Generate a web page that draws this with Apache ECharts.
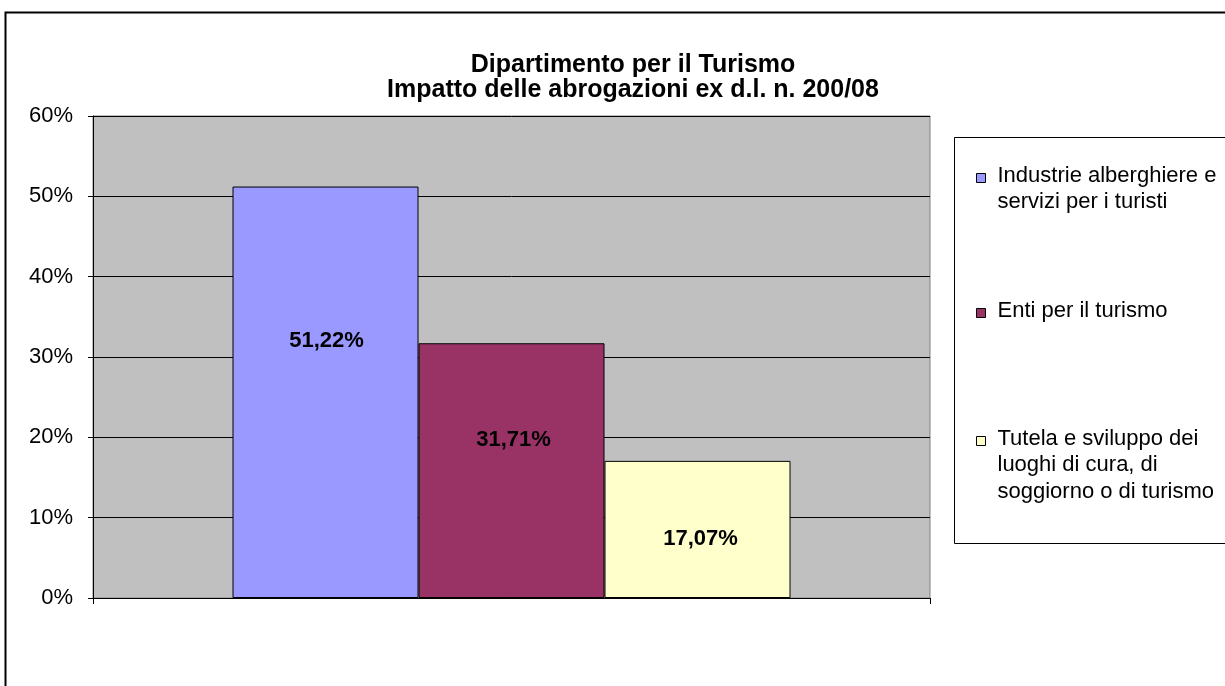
<!DOCTYPE html>
<html>
<head>
<meta charset="utf-8">
<script src="https://cdn.jsdelivr.net/npm/echarts@6/dist/echarts.min.js"></script>
<style>
  html, body { margin: 0; padding: 0; background: #fff; }
  #chart { width: 1225px; height: 686px; }
</style>
</head>
<body>
<div id="chart"></div>
<script>
const categories = [''];
const series_names = [
    'Industrie alberghiere e\nservizi per i turisti',
    'Enti per il turismo',
    'Tutela e sviluppo dei\nluoghi di cura, di\nsoggiorno o di turismo'
];
const series_values = [51.22, 31.71, 17.07];
const series_colors = ['#9999FF', '#993366', '#FFFFCC'];
const y_ticks = [0, 10, 20, 30, 40, 50, 60];

const FONT = 'Liberation Sans, Arial, sans-serif';
const LINE_H = 26.5;

function fmt_pct(v) {
    return v.toFixed(2).replace('.', ',') + '%';
}

// one legend per item; the icon path is padded so the square sits on the first text line
const legend_tops = [162, 297, 425];
const legends = series_names.map(function (name, i) {
    const h = name.split('\n').length * LINE_H;
    return {
        data: [name],
        left: 976,
        top: legend_tops[i],
        padding: 0,
        itemWidth: 16,
        itemHeight: h,
        icon: 'path://M0,11L9,11L9,20L0,20Z M0,0 M16,' + h,
        selectedMode: false,
        itemStyle: {borderColor: '#000', borderWidth: 1},
        textStyle: {fontFamily: FONT, fontSize: 22, color: '#000', lineHeight: LINE_H}
    };
});

// Excel had the labels nudged off the bar middles
const label_offsets = [[1, -51], [2, -31], [3, 10]];

const series = series_names.map(function (name, i) {
    return {
        name: name,
        type: 'bar',
        data: [series_values[i]],
        barWidth: 186,
        barGap: '0%',
        itemStyle: {color: series_colors[i], borderColor: '#000', borderWidth: 1},
        label: {
            show: true,
            position: 'inside',
            offset: label_offsets[i],
            formatter: function (p) { return fmt_pct(p.value); },
            fontFamily: FONT, fontSize: 22, fontWeight: 'bold', color: '#000'
        }
    };
});

const option = {
    animation: false,
    backgroundColor: '#fff',
    title: {
        text: 'Dipartimento per il Turismo\nImpatto delle abrogazioni ex d.l. n. 200/08',
        left: 628,
        top: 48,
        textAlign: 'center',
        textStyle: {fontFamily: FONT, fontSize: 25, fontWeight: 'bold', color: '#000', lineHeight: 25}
    },
    legend: legends,
    grid: {
        left: 93, right: 295, top: 116, bottom: 88,
        show: true, backgroundColor: '#C0C0C0', borderColor: '#808080', borderWidth: 1
    },
    xAxis: {
        type: 'category',
        data: categories,
        axisLine: {lineStyle: {color: '#000', width: 1}},
        axisTick: {show: true, length: 6, lineStyle: {color: '#000'}},
        axisLabel: {show: false}
    },
    yAxis: {
        type: 'value',
        min: y_ticks[0],
        max: y_ticks[y_ticks.length - 1],
        interval: 10,
        axisLine: {show: true, lineStyle: {color: '#000', width: 1}},
        axisTick: {show: true, length: 5, lineStyle: {color: '#000'}},
        axisLabel: {formatter: '{value}%', fontFamily: FONT, fontSize: 22, color: '#000', margin: 20},
        splitLine: {lineStyle: {color: '#000', width: 1}}
    },
    graphic: [
        {
            type: 'rect', left: 3, top: 10, z: -1,
            shape: {width: 1240, height: 700},
            style: {fill: 'none', stroke: '#000', lineWidth: 2}
        },
        {
            type: 'rect', left: 954, top: 137, z: 0,
            shape: {width: 290, height: 406},
            style: {fill: '#fff', stroke: '#000', lineWidth: 1}
        }
    ],
    series: series
};

let chart = echarts.init(document.getElementById('chart'), null, {renderer: 'canvas'});
chart.setOption(option);
window.addEventListener('resize', function () {
    chart.resize();
});
</script>
</body>
</html>
